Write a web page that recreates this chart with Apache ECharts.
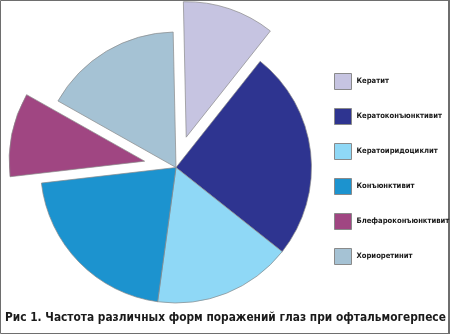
<!DOCTYPE html>
<html>
<head>
<meta charset="utf-8">
<script src="https://cdn.jsdelivr.net/npm/echarts@6/dist/echarts.min.js"></script>
<style>
  html, body { margin: 0; padding: 0; background: #fff; }
  #chart { width: 450px; height: 334px; }
</style>
</head>
<body>
<div id="chart"></div>
<script>
// Eye lesion forms in ophthalmic herpes, share of cases (%)
const categories = [
  'Кератит',
  'Кератоконъюнктивит',
  'Кератоиридоциклит',
  'Конъюнктивит',
  'Блефароконъюнктивит',
  'Хориоретинит'
];
const shares = [11, 25, 16.5, 21, 10, 16.5];
const colors = ['#c6c4e1', '#2e3490', '#8fd8f6', '#1c93cf', '#a04682', '#a5c2d4'];
// slices pulled out of the pie
const pulledOut = ['Кератит', 'Блефароконъюнктивит'];
const captionText = 'Рис 1. Частота различных форм поражений глаз при офтальмогерпесе';

const fontStack = '"DejaVu Sans Condensed", "DejaVu Sans", sans-serif';

const chart = echarts.init(document.getElementById('chart'), null, { renderer: 'canvas' });

const data = categories.map((name, i) => ({
  name,
  value: shares[i],
  selected: pulledOut.includes(name),
  itemStyle: { color: colors[i] }
}));

chart.setOption({
  animation: false,
  backgroundColor: '#ffffff',
  title: {
    text: captionText,
    left: 0,
    top: 307,
    textStyle: {
      fontFamily: fontStack,
      fontWeight: 'bold',
      fontSize: 11.8,
      color: '#1a1a1a'
    }
  },
  legend: {
    orient: 'vertical',
    left: 329,
    top: 68,
    itemWidth: 17,
    itemHeight: 16,
    itemGap: 18,
    icon: 'rect',
    selectedMode: false,
    textStyle: {
      fontFamily: fontStack,
      fontWeight: 'bold',
      fontSize: 7.6,
      color: '#1a1a1a'
    },
    itemStyle: { borderColor: '#8a8a8a', borderWidth: 1 },
    data: categories
  },
  graphic: [
    {
      type: 'rect',
      silent: true,
      shape: { x: 0.5, y: 0.5, width: 448, height: 333 },
      style: { fill: 'none', stroke: '#6e6e6e', lineWidth: 1 }
    },
    {
      type: 'rect',
      silent: true,
      shape: { x: 448, y: 0, width: 2, height: 334 },
      style: { fill: '#6e6e6e' }
    }
  ],
  series: [{
    type: 'pie',
    center: [176, 167.5],
    radius: [0, 135.5],
    startAngle: 91.2,
    clockwise: true,
    selectedMode: 'multiple',
    selectedOffset: 32,
    label: { show: false },
    labelLine: { show: false },
    emphasis: { disabled: true },
    itemStyle: { borderColor: '#8a8a8a', borderWidth: 0.7 },
    data
  }]
});
</script>
</body>
</html>
